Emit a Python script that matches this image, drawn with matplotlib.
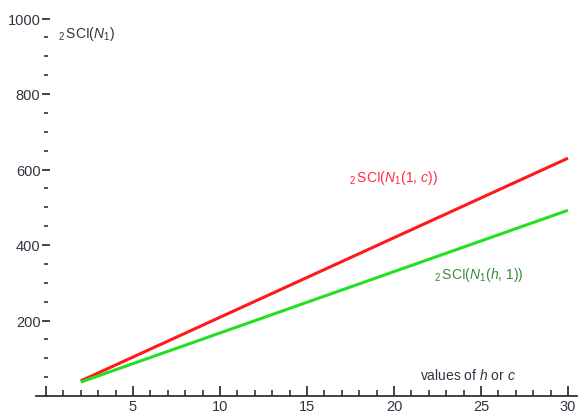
#!/usr/bin/env python3
# SCI of N1 against h or c, Mathematica-like axes
import numpy as np
import matplotlib
matplotlib.use('Agg')
import matplotlib.pyplot as plt
from matplotlib.ticker import MultipleLocator, FixedLocator, FuncFormatter

# data (both curves are straight lines)
hc_vals = [2, 30]
sci_red = [40, 630]    # 2SCI(N1(1, c))
sci_green = [37, 492]  # 2SCI(N1(h, 1))

x_major = [0, 5, 10, 15, 20, 25, 30]
y_major = [200, 400, 600, 800, 1000]

plt.rcParams['font.family'] = ['Liberation Sans', 'DejaVu Sans']
plt.rcParams['mathtext.fontset'] = 'custom'
plt.rcParams['mathtext.rm'] = 'Liberation Sans'
plt.rcParams['mathtext.it'] = 'Liberation Sans:italic'

W, H = 581, 414
fig = plt.figure(figsize=(W / 100, H / 100), dpi=100)

# pixel layout: x=0 -> 46px, x=30 -> 568px ; y=0 -> 397px, y=1000 -> 19.5px
xlim = (-0.6, 30.5)
ylim = (0, 1040)
px_x = lambda v: 46 + (v - 0) * (568 - 46) / 30.0
px_y = lambda v: 397 - v * (397 - 19.5) / 1000.0
left = px_x(xlim[0]) / W
right = px_x(xlim[1]) / W
bottom = 1 - px_y(ylim[0]) / H
top = 1 - px_y(ylim[1]) / H
ax = fig.add_axes([left, bottom, right - left, top - bottom])
ax.set_xlim(*xlim)
ax.set_ylim(*ylim)
ax.patch.set_alpha(0)

ax.plot(hc_vals, sci_red, color='#ff1a1a', lw=2.2, solid_capstyle='butt')
ax.plot(hc_vals, sci_green, color='#22e022', lw=2.2, solid_capstyle='butt')

# axes through the origin
for s in ['top', 'right']:
    ax.spines[s].set_visible(False)
ax.spines['left'].set_position(('data', 0))
ax.spines['left'].set_visible(False)
ax.spines['bottom'].set_position(('data', 0))
ax.spines['bottom'].set_color('#333333')
ax.spines['bottom'].set_linewidth(1.3)

ax.xaxis.set_major_locator(FixedLocator(x_major))
ax.xaxis.set_minor_locator(MultipleLocator(1))
ax.xaxis.set_major_formatter(FuncFormatter(lambda v, p: '' if v == 0 else f'{v:g}'))
ax.yaxis.set_major_locator(FixedLocator(y_major))
ax.yaxis.set_minor_locator(MultipleLocator(50))

ax.tick_params(axis='x', which='major', direction='in', length=7, width=1.2,
               color='#222222', labelsize=10.5, labelcolor='#333344', pad=2)
ax.tick_params(axis='x', which='minor', direction='in', length=4.5, width=1.1, color='#222222')
ax.tick_params(axis='y', which='major', direction='inout', length=6, width=1.2,
               color='#222222', labelsize=10.5, labelcolor='#333344', pad=1)
ax.tick_params(axis='y', which='minor', direction='inout', length=3, width=1.1, color='#222222')

# labels
fs = 10
ax.text(0.7, 962, r'$_2\,$SCI($N_1$)', fontsize=fs, color='#333344', va='center', ha='left')
ax.text(17.4, 580, r'$_2\,$SCI($N_1$(1, $c$))', fontsize=fs, color='#ff2a40', va='center', ha='left')
ax.text(22.3, 323, r'$_2\,$SCI($N_1$($h$, 1))', fontsize=fs, color='#3a8a40', va='center', ha='left')
ax.text(21.5, 58, r'values of $h$ or $c$', fontsize=fs, color='#333344', va='center', ha='left')

fig.savefig('out.png', dpi=100)
